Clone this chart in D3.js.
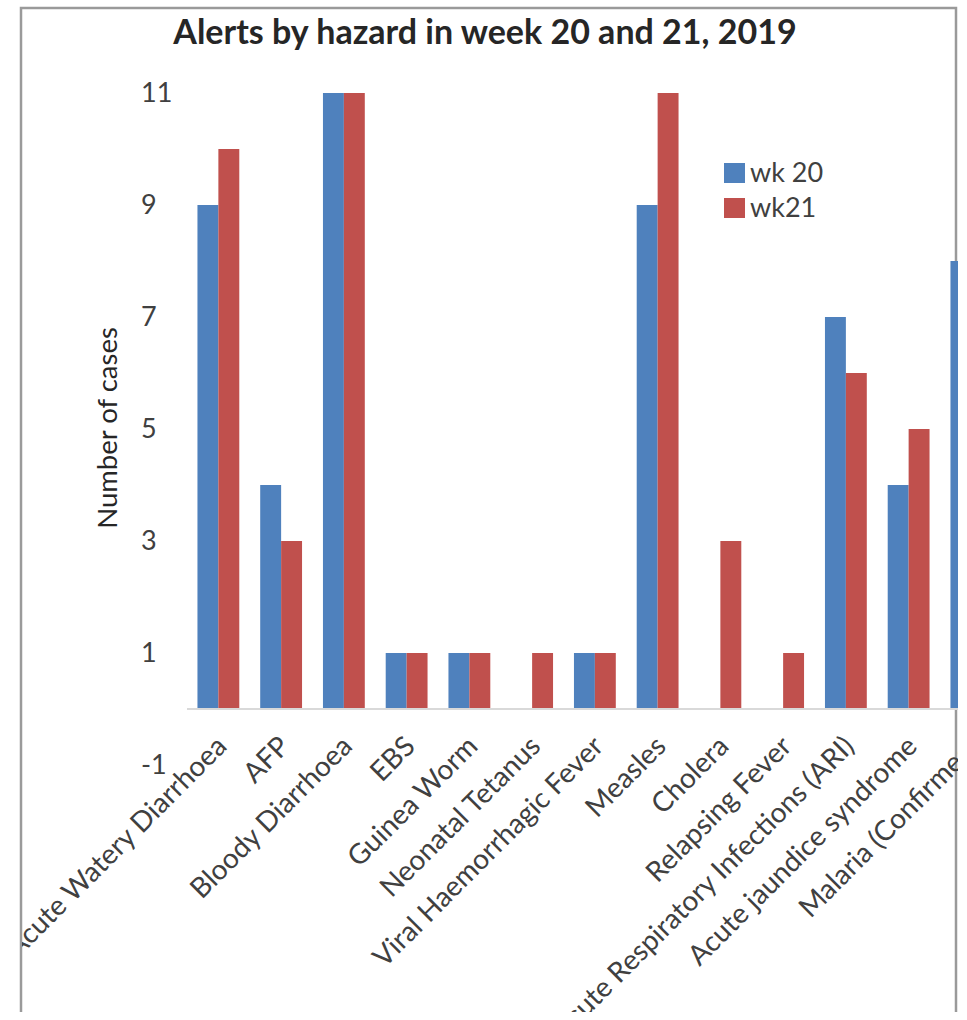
<!DOCTYPE html>
<html lang="en">
<head>
    <meta charset="UTF-8">
    <title>Alerts by hazard</title>
    <script src="https://d3js.org/d3.v7.min.js"></script>
    <style>
        body { margin: 0; background: #fff; }
        svg { display: block; font-family: Lato, "Open Sans", sans-serif; }
    </style>
</head>
<body>
<svg id="chart"></svg>
<script>
    const CATEGORIES = [
        'Acute Watery Diarrhoea', 'AFP', 'Bloody Diarrhoea', 'EBS', 'Guinea Worm',
        'Neonatal Tetanus', 'Viral Haemorrhagic Fever', 'Measles', 'Cholera',
        'Relapsing Fever', 'Acute Respiratory Infections (ARI)', 'Acute jaundice syndrome',
        'Malaria (Confirmed)'
    ];
    const WK20 = [9, 4, 11, 1, 1, 0, 1, 9, 0, 0, 7, 4, 8];
    const WK21 = [10, 3, 11, 1, 1, 1, 1, 11, 3, 1, 6, 5, null];
    const SERIES = ['wk 20', 'wk21'];
    const Y_TICKS = [-1, 1, 3, 5, 7, 9, 11];

    const width = 967, height = 1020;
    const colors = ['#4f81bd', '#c0504d'];

    const svg = d3.select('#chart').attr('width', width).attr('height', height);

    // frame of the cropped picture (left, top, right only)
    const frame = {left: 21, top: 8, right: 956, bottom: 1012};

    svg.append('defs').append('clipPath').attr('id', 'clip')
        .append('rect')
        .attr('x', frame.left + 1).attr('y', frame.top)
        .attr('width', frame.right - frame.left + 1)
        .attr('height', frame.bottom - frame.top);

    svg.append('path')
        .attr('d', `M${frame.left},${frame.bottom}V${frame.top}H${frame.right}V${frame.bottom}`)
        .attr('fill', 'none').attr('stroke', '#9a9a9a').attr('stroke-width', 2.5);

    const g = svg.append('g').attr('clip-path', 'url(#clip)');

    const step = 62.75;
    const x0 = d3.scaleBand()
        .domain(CATEGORIES)
        .range([187, 187 + step * CATEGORIES.length])
        .paddingInner(0).paddingOuter(0);
    const x1 = d3.scaleBand().domain([0, 1]).range([0, x0.bandwidth()]).paddingOuter(0.5);

    const y = d3.scaleLinear().domain([0, 11]).range([709, 93]);

    // title
    svg.append('text')
        .attr('x', 485).attr('y', 44)
        .attr('text-anchor', 'middle')
        .attr('font-size', 34).attr('font-weight', 'bold').attr('fill', '#262626')
        .text('Alerts by hazard in week 20 and 21, 2019');

    // y tick labels
    g.selectAll('.ytick')
        .data(Y_TICKS)
        .enter().append('text')
        .attr('x', 141)
        .attr('y', d => y(d))
        .attr('dy', '0.35em')
        .attr('font-size', 27).attr('fill', '#404040')
        .text(d => d);

    // y axis title
    svg.append('text')
        .attr('transform', 'translate(117,428) rotate(-90)')
        .attr('text-anchor', 'middle')
        .attr('font-size', 27.5).attr('fill', '#262626')
        .text('Number of cases');

    // bars
    const groups = g.selectAll('.grp')
        .data(CATEGORIES)
        .enter().append('g')
        .attr('transform', d => `translate(${x0(d)},0)`);

    groups.selectAll('rect')
        .data((d, i) => [WK20[i], WK21[i]].map((v, s) => ({v, s})).filter(e => e.v != null && e.v > 0))
        .enter().append('rect')
        .attr('x', e => x1(e.s))
        .attr('y', e => y(e.v))
        .attr('width', x1.bandwidth())
        .attr('height', e => y(0) - y(e.v))
        .attr('fill', e => colors[e.s]);

    // baseline
    g.append('line')
        .attr('x1', x0.range()[0]).attr('x2', x0.range()[1])
        .attr('y1', y(0)).attr('y2', y(0))
        .attr('stroke', '#d9d9d9').attr('stroke-width', 2);

    // category labels
    g.selectAll('.xlab')
        .data(CATEGORIES)
        .enter().append('text')
        .attr('transform', d => `translate(${x0(d) + x0.bandwidth() / 2 + 10},748) rotate(-45)`)
        .attr('text-anchor', 'end')
        .attr('font-size', 28).attr('fill', '#404040')
        .text(d => d);

    // legend
    const legend = svg.append('g');
    SERIES.forEach((s, i) => {
        legend.append('rect')
            .attr('x', 724).attr('y', 163 + i * 35)
            .attr('width', 21).attr('height', 20)
            .attr('fill', colors[i]);
        legend.append('text')
            .attr('x', 750).attr('y', 173 + i * 35)
            .attr('dy', '0.35em')
            .attr('font-size', 27).attr('fill', '#404040')
            .text(s);
    });
</script>
</body>
</html>
